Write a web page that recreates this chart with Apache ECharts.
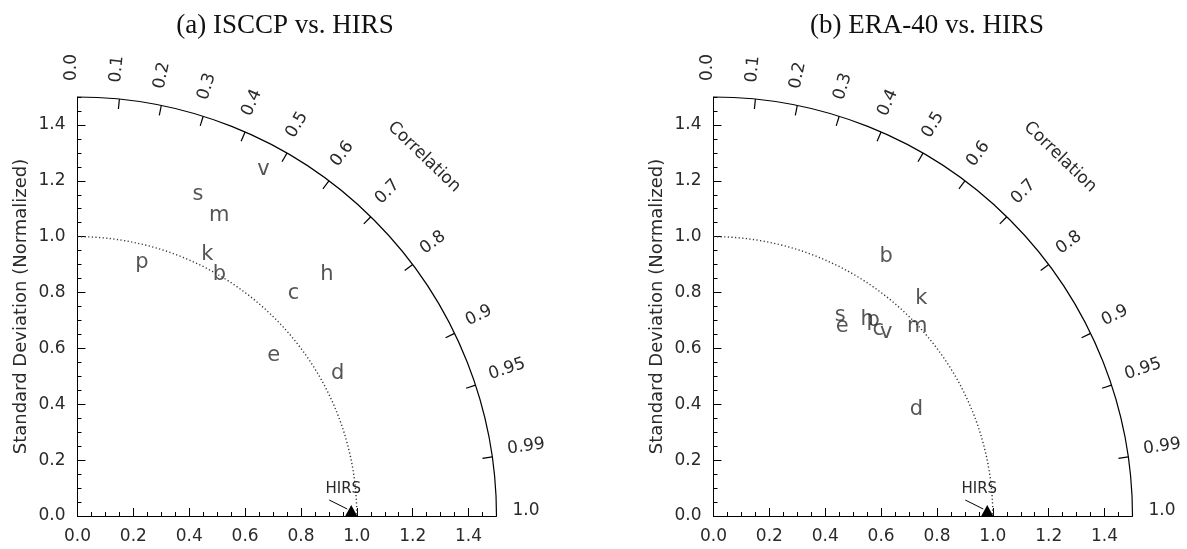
<!DOCTYPE html>
<html>
<head>
<meta charset="utf-8">
<script src="https://cdn.jsdelivr.net/npm/echarts@6/dist/echarts.min.js"></script>
<style>
html, body { margin: 0; background: #fff; }
#chart { width: 1187px; height: 549px; }
</style>
</head>
<body>
<div id="chart"></div>
<script>
// experiment letters, same order in both panels
var letters = ['b', 'c', 'd', 'e', 'h', 'k', 'm', 'p', 's', 'v'];

// (a) ISCCP vs. HIRS, positions in normalized std-dev units
var isccpX = [0.508, 0.773, 0.931, 0.702, 0.893, 0.465, 0.507, 0.231, 0.431, 0.666];
var isccpY = [0.866, 0.797, 0.511, 0.573, 0.863, 0.937, 1.074, 0.907, 1.149, 1.241];

// (b) ERA-40 vs. HIRS
var eraX = [0.618, 0.590, 0.726, 0.461, 0.550, 0.744, 0.729, 0.572, 0.454, 0.618];
var eraY = [0.928, 0.666, 0.381, 0.680, 0.702, 0.779, 0.680, 0.698, 0.716, 0.655];

// correlation ticks on the outer arc
var corrTicks = [0.0, 0.1, 0.2, 0.3, 0.4, 0.5, 0.6, 0.7, 0.8, 0.9, 0.95, 0.99, 1.0];
var corrLabels = ['0.0', '0.1', '0.2', '0.3', '0.4', '0.5', '0.6', '0.7', '0.8', '0.9', '0.95', '0.99', '1.0'];

// arcs: [radius, dotted?]
var arcs = [[1.5, 0], [1.0, 1]];
var hirsPoint = [[0.98, 0]];

var maxStd = 1.5;
var FONT = 'DejaVu Sans';
var INK = '#2a2a2a';

var myChart = echarts.init(document.getElementById('chart'));

function renderArc(params, api) {
    var o = api.coord([0, 0]);
    var r = api.size([api.value(0), 0])[0];
    var dotted = api.value(1) === 1;
    return {
        type: 'arc',
        silent: true,
        shape: { cx: o[0], cy: o[1], r: r, startAngle: -Math.PI / 2, endAngle: 0, clockwise: true },
        style: {
            fill: 'none',
            stroke: dotted ? '#333' : '#000',
            lineWidth: dotted ? 1.4 : 1.2,
            lineDash: dotted ? [1.2, 2.4] : null
        }
    };
}

function renderTick(params, api) {
    var c = api.value(0);
    var th = Math.acos(c);
    var cs = Math.cos(th), sn = Math.sin(th);
    var o = api.coord([0, 0]);
    var R = api.size([maxStd, 0])[0];
    var kids = [];
    if (c > 0 && c < 1) {
        kids.push({
            type: 'line',
            shape: { x1: o[0] + R * cs, y1: o[1] - R * sn, x2: o[0] + (R - 10) * cs, y2: o[1] - (R - 10) * sn },
            style: { stroke: '#000', lineWidth: 1.2 }
        });
    }
    var rl = R + 16, d = 3;
    kids.push({
        type: 'text',
        x: o[0] + rl * cs + d * sn,
        y: o[1] - rl * sn + d * cs,
        rotation: th,
        style: {
            text: corrLabels[params.dataIndex],
            fontFamily: FONT, fontSize: 17, fill: INK,
            align: 'left', verticalAlign: 'bottom'
        }
    });
    if (params.dataIndex === 0) {
        var a = 46 * Math.PI / 180;
        kids.push({
            type: 'text',
            x: o[0] + (R + 80) * Math.cos(a),
            y: o[1] - (R + 80) * Math.sin(a),
            rotation: a - Math.PI / 2,
            style: {
                text: 'Correlation',
                fontFamily: FONT, fontSize: 17, fill: INK,
                align: 'center', verticalAlign: 'middle'
            }
        });
    }
    return { type: 'group', silent: true, children: kids };
}

function renderRef(params, api) {
    var p = api.coord([api.value(0), api.value(1)]);
    return {
        type: 'group',
        silent: true,
        children: [
            { type: 'polygon', shape: { points: [[p[0] - 6, p[1]], [p[0] + 6, p[1]], [p[0], p[1] - 11]] }, style: { fill: '#000' } },
            { type: 'line', shape: { x1: p[0] - 22, y1: p[1] - 16, x2: p[0] - 4, y2: p[1] - 7 }, style: { stroke: '#000', lineWidth: 1 } },
            { type: 'text', x: p[0] - 8, y: p[1] - 27, style: { text: 'HIRS', fontFamily: FONT, fontSize: 15, fill: INK, align: 'center', verticalAlign: 'middle' } }
        ]
    };
}

function majorAxis(grid, pos, withName) {
    var ax = {
        type: 'value', gridIndex: grid, position: pos, min: 0, max: maxStd, interval: 0.2,
        axisLine: { onZero: false, lineStyle: { color: '#000', width: 1 } },
        axisTick: { inside: true, length: 8, lineStyle: { color: '#000' } },
        axisLabel: {
            color: INK, fontFamily: FONT, fontSize: 17, margin: 12, showMaxLabel: false,
            formatter: function (v) { return v.toFixed(1); }
        },
        splitLine: { show: false }
    };
    if (withName) {
        ax.name = 'Standard Deviation (Normalized)';
        ax.nameLocation = 'middle';
        ax.nameGap = 47;
        ax.nameTextStyle = { color: INK, fontFamily: FONT, fontSize: 18 };
    }
    return ax;
}

function minorAxis(grid, pos) {
    return {
        type: 'value', gridIndex: grid, position: pos, min: 0, max: maxStd, interval: 0.05,
        axisLine: { show: false },
        axisTick: { inside: true, length: 4, lineStyle: { color: '#000' } },
        axisLabel: { show: false },
        splitLine: { show: false }
    };
}

function points(xs, ys) {
    return letters.map(function (l, i) { return { name: l, value: [xs[i], ys[i]] }; });
}

function panelSeries(i, xs, ys) {
    var xi = 2 * i, yi = 2 * i;
    return [
        { type: 'custom', xAxisIndex: xi, yAxisIndex: yi, renderItem: renderArc, data: arcs, silent: true },
        { type: 'custom', xAxisIndex: xi, yAxisIndex: yi, renderItem: renderTick, data: corrTicks.map(function (c) { return [c]; }), silent: true },
        { type: 'custom', xAxisIndex: xi, yAxisIndex: yi, renderItem: renderRef, data: hirsPoint, silent: true },
        {
            type: 'scatter', xAxisIndex: xi, yAxisIndex: yi, symbolSize: 1,
            itemStyle: { color: 'rgba(0,0,0,0)' },
            label: {
                show: true, position: 'inside', formatter: '{b}',
                color: INK, fontFamily: FONT, fontSize: 21
            },
            silent: true,
            data: points(xs, ys)
        }
    ];
}

var titleStyle = { fontFamily: 'Liberation Serif', fontSize: 27, fontWeight: 'normal', color: '#111' };

var option = {
    backgroundColor: '#fff',
    animation: false,
    title: [
        { text: '(a) ISCCP vs. HIRS', left: 280, top: 7, textAlign: 'center', textStyle: titleStyle },
        { text: '(b) ERA-40 vs. HIRS', left: 922, top: 7, textAlign: 'center', textStyle: titleStyle }
    ],
    grid: [
        { left: 77.5, top: 97, width: 419, height: 419 },
        { left: 713.5, top: 97, width: 419, height: 419 }
    ],
    xAxis: [majorAxis(0, 'bottom'), minorAxis(0, 'bottom'), majorAxis(1, 'bottom'), minorAxis(1, 'bottom')],
    yAxis: [majorAxis(0, 'left', true), minorAxis(0, 'left'), majorAxis(1, 'left', true), minorAxis(1, 'left')],
    series: panelSeries(0, isccpX, isccpY).concat(panelSeries(1, eraX, eraY))
};

myChart.setOption(option);
</script>
</body>
</html>
